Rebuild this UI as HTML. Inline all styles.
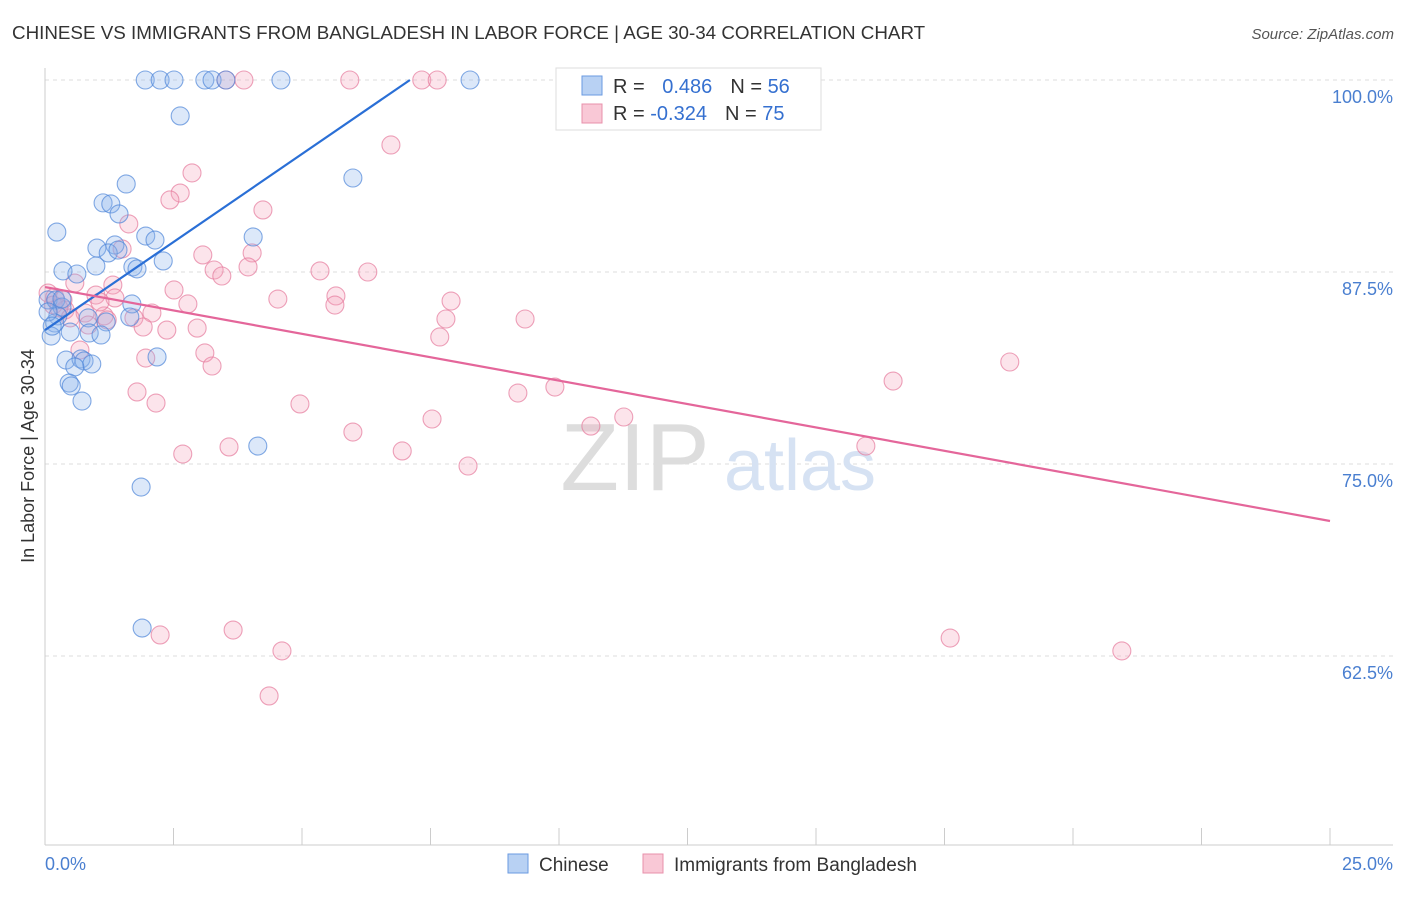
<!DOCTYPE html>
<html><head><meta charset="utf-8"><style>
body{margin:0;background:#fff;font-family:"Liberation Sans",sans-serif}
svg text{font-family:"Liberation Sans",sans-serif}
</style></head><body>
<svg width="1406" height="892" viewBox="0 0 1406 892">
<text x="12" y="39" font-size="18.8" fill="#333">CHINESE VS IMMIGRANTS FROM BANGLADESH IN LABOR FORCE | AGE 30-34 CORRELATION CHART</text>
<text x="1394" y="39" font-size="15" fill="#555" font-style="italic" text-anchor="end">Source: ZipAtlas.com</text>
<g id="grid"></g>
<g><text x="635" y="490" font-size="96" fill="#ddd" font-family="Liberation Serif" text-anchor="middle">ZIP</text><text x="800" y="490" font-size="72" fill="#d6e2f3" text-anchor="middle">atlas</text></g>
<line x1="45" y1="68" x2="45" y2="845" stroke="#ccc"/>
<line x1="45" y1="845" x2="1393" y2="845" stroke="#ccc"/>
<g id="ticks"></g>
<text transform="translate(34,456) rotate(-90)" font-size="18" fill="#333" text-anchor="middle">In Labor Force | Age 30-34</text>
<text x="45" y="870" font-size="18" fill="#4a7fd0">0.0%</text>
<text x="1393" y="870" font-size="18" fill="#4a7fd0" text-anchor="end">25.0%</text>
<g id="pts"></g>
<g id="lines"></g>
<g>
<rect x="556" y="68" width="265" height="62" fill="#fff" stroke="#ddd"/>
<rect x="582" y="76" width="20" height="19" fill="#b8d1f3" stroke="#6a9ae0"/>
<rect x="582" y="104" width="20" height="19" fill="#f9c8d6" stroke="#e890ab"/>
<text x="613" y="93" font-size="20" fill="#333">R = <tspan fill="#3570d0" dx="12">0.486</tspan><tspan dx="18">N = </tspan><tspan fill="#3570d0">56</tspan></text>
<text x="613" y="120" font-size="20" fill="#333">R = <tspan fill="#3570d0">-0.324</tspan><tspan dx="18">N = </tspan><tspan fill="#3570d0">75</tspan></text>
</g>
<g>
<rect x="508" y="854" width="20" height="19" fill="#b8d1f3" stroke="#6a9ae0"/>
<text x="539" y="871" font-size="19" fill="#333">Chinese</text>
<rect x="643" y="854" width="20" height="19" fill="#f9c8d6" stroke="#e890ab"/>
<text x="674" y="871" font-size="19" fill="#333">Immigrants from Bangladesh</text>
</g>
</svg>
<script>
const yTicks=[100,87.5,75,62.5];
const yTickLabels=["100.0%","87.5%","75.0%","62.5%"];
const xTicks=[0,2.5,5,7.5,10,12.5,15,17.5,20,22.5,25];
const chineseX=[1.95,2.24,2.51,3.11,3.25,3.52,4.59,8.27,2.63,1.58,5.99,1.13,1.28,1.44,0.23,1.96,2.14,4.05,1.01,1.36,1.23,1.42,2.30,0.35,0.62,0.99,1.71,1.79,0.06,0.21,0.33,1.69,0.25,0.84,1.19,1.65,0.19,0.12,0.49,0.86,1.09,0.41,0.70,0.76,0.91,0.58,2.18,0.47,0.51,0.72,4.14,1.87,1.89,0.06,0.14,0.33];
const chineseY=[100,100,100,100,100,100,100,100,97.66,93.23,93.62,92.0,91.93,91.28,90.10,89.84,89.58,89.78,89.06,89.26,88.74,88.93,88.22,87.57,87.37,87.89,87.83,87.70,85.68,85.68,85.22,85.42,84.64,84.51,84.25,84.57,84.18,83.33,83.59,83.53,83.40,81.77,81.84,81.71,81.51,81.32,81.97,80.27,80.08,79.10,76.17,73.50,64.32,84.90,83.98,85.74];
const bangX=[3.87,5.93,7.33,7.63,3.52,6.73,2.86,2.63,2.43,4.24,1.63,1.50,3.07,4.03,3.29,3.44,3.95,5.35,6.28,2.51,1.32,0.58,0.06,0.19,0.35,0.99,1.36,2.78,4.53,5.66,5.64,7.90,0.39,0.78,1.15,1.73,2.08,1.91,2.37,2.96,7.80,9.34,7.68,0.84,0.68,3.11,3.25,1.96,1.79,2.16,4.96,9.92,9.20,16.50,18.77,5.99,7.53,11.26,10.62,6.95,8.23,2.68,3.58,15.97,2.24,3.66,4.61,4.36,17.61,20.95,0.16,0.27,1.07,1.21,0.49];
const bangY=[100,100,100,100,100,95.77,93.95,92.64,92.19,91.54,90.63,89.0,88.61,88.74,87.63,87.24,87.83,87.57,87.50,86.33,86.65,86.78,86.13,85.87,85.68,86.0,85.81,85.42,85.74,85.94,85.35,85.61,85.03,84.83,84.64,84.51,84.83,83.92,83.72,83.85,84.44,84.44,83.27,84.05,82.42,82.23,81.38,81.90,79.69,78.97,78.91,80.01,79.62,80.40,81.64,77.08,77.93,78.06,77.47,75.85,74.87,75.65,76.11,76.17,63.87,64.19,62.83,59.90,63.67,62.83,85.35,85.16,85.55,84.38,84.51];
const chineseTrendX=[0,7.1];
const chineseTrendY=[83.72,100];
const bangTrendX=[0,25];
const bangTrendY=[86.52,71.29];
const NS='http://www.w3.org/2000/svg';
const sx=v=>45+v/25*1285;
const sy=v=>80+(100-v)/12.5*192;
function mk(tag,attrs,parent){const e=document.createElementNS(NS,tag);for(const k in attrs)e.setAttribute(k,attrs[k]);document.getElementById(parent).appendChild(e);return e;}
yTicks.forEach((t,i)=>{
 const l=mk('line',{x1:45,x2:1393,y1:sy(t),y2:sy(t),stroke:'#ddd','stroke-dasharray':'4,4'},'grid');
 
 
 const tx=mk('text',{x:1393,y:sy(t)+23,'font-size':18,fill:'#4a7fd0','text-anchor':'end'},'grid');
 tx.textContent=yTickLabels[i];
 
 
});
xTicks.forEach(t=>{
 const l=mk('line',{x1:sx(t),x2:sx(t),y1:828,y2:845,stroke:'#ccc'},'ticks');
 
 
});
function pts(X,Y,fill,stroke,name){X.forEach((x,i)=>{
 const c=mk('circle',{cx:sx(x),cy:sy(Y[i]),r:9,fill:fill,'fill-opacity':0.3,stroke:stroke,'stroke-width':1.1,'stroke-opacity':0.7},'pts');
 
 
});}
pts(bangX,bangY,'#f4a6bd','#e57a9c','bangladesh-point');
pts(chineseX,chineseY,'#8ab4ea','#4f86d8','chinese-point');
const l1=mk('line',{x1:sx(chineseTrendX[0]),y1:sy(chineseTrendY[0]),x2:sx(chineseTrendX[1]),y2:sy(chineseTrendY[1]),stroke:'#2a6fd6','stroke-width':2.2},'lines');


const l2=mk('line',{x1:sx(bangTrendX[0]),y1:sy(bangTrendY[0]),x2:sx(bangTrendX[1]),y2:sy(bangTrendY[1]),stroke:'#e4669a','stroke-width':2.2},'lines');


</script>
</body></html>
